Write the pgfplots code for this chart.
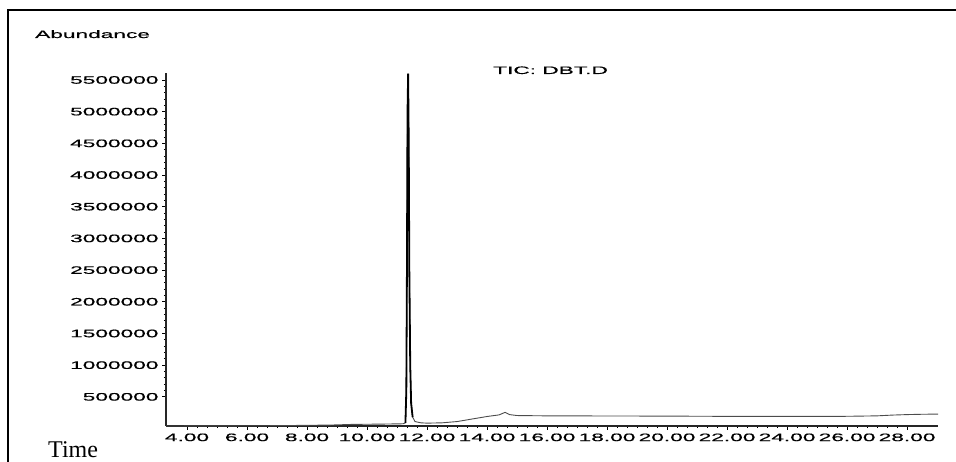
\documentclass[border=0pt]{standalone}
\usepackage{pgfplots}
\pgfplotsset{compat=1.18}
\usepackage{fontspec}
\setmainfont{Liberation Sans}
\newfontfamily\wide[FakeStretch=2.1,FakeBold=0.6]{Liberation Sans}
\newfontfamily\serifface{Liberation Serif}
\begin{document}
\begin{tikzpicture}[x=1pt,y=1pt]
\useasboundingbox (0,0) rectangle (956,462);
\draw[line width=2.2pt] (8,0) -- (8,452) -- (956,452);
\begin{axis}[
  at={(166pt,36pt)}, anchor=south west,
  scale only axis, width=772pt, height=353pt,
  xmin=3.3, xmax=29.03, ymin=40000, ymax=5610000,
  axis x line*=bottom, axis y line*=left,
  axis line style={-, line width=1.4pt, black!85},
  tick align=outside,
  xtick={4,6,8,10,12,14,16,18,20,22,24,26,28},
  ytick={500000,1000000,1500000,2000000,2500000,3000000,3500000,4000000,4500000,5000000,5500000},
  minor x tick num=5, minor y tick num=4,
  major tick length=4pt, minor tick length=2.2pt,
  tick style={black, line width=0.9pt},
  scaled y ticks=false,
  /pgf/number format/assume math mode=true,
  ticklabel style={font=\wide\fontsize{10.8}{12}\selectfont},
  yticklabel style={/pgf/number format/.cd, fixed, 1000 sep={}},
  xticklabel style={/pgf/number format/.cd, fixed, fixed zerofill, precision=2},
  clip=false,
]
\addplot[black!70, line width=0.9pt] coordinates {
(3.3,40000) (5,42000) (7,45000) (8.8,55000) (9.5,65000) (10.5,70000) (11.2,75000)
(11.28,90000) (11.31,600000) (11.33,2500000) (11.35,5000000) (11.37,5600000)
(11.39,4500000) (11.41,2500000) (11.44,1000000) (11.47,400000) (11.52,180000)
(11.6,110000) (11.8,90000) (12.0,85000) (12.5,90000) (13.0,110000) (13.5,150000)
(14.0,190000) (14.4,215000) (14.6,255000) (14.75,220000) (15.0,205000) (16.0,200000)
(18.0,198000) (20.0,196000) (22.0,192000) (24.0,192000) (26.0,193000) (27.0,200000)
(27.5,212000) (28.0,220000) (28.5,225000) (29.03,228000)
};
\addplot[black, line width=1.8pt] coordinates {
(11.28,90000) (11.31,600000) (11.33,2500000) (11.35,5000000) (11.37,5600000)
(11.39,4500000) (11.41,2500000) (11.44,1000000) (11.47,400000) (11.52,180000)
};
\end{axis}
\node[anchor=base west, inner sep=0] at (35,424) {\wide\fontsize{10.8}{12}\selectfont Abundance};
\node[anchor=base west, inner sep=0] at (493,388) {\wide\fontsize{10.8}{12}\selectfont TIC: DBT.D};
\node[anchor=base west, inner sep=0] at (48,4) {\serifface\fontsize{24}{28}\selectfont Time};
\end{tikzpicture}
\end{document}
